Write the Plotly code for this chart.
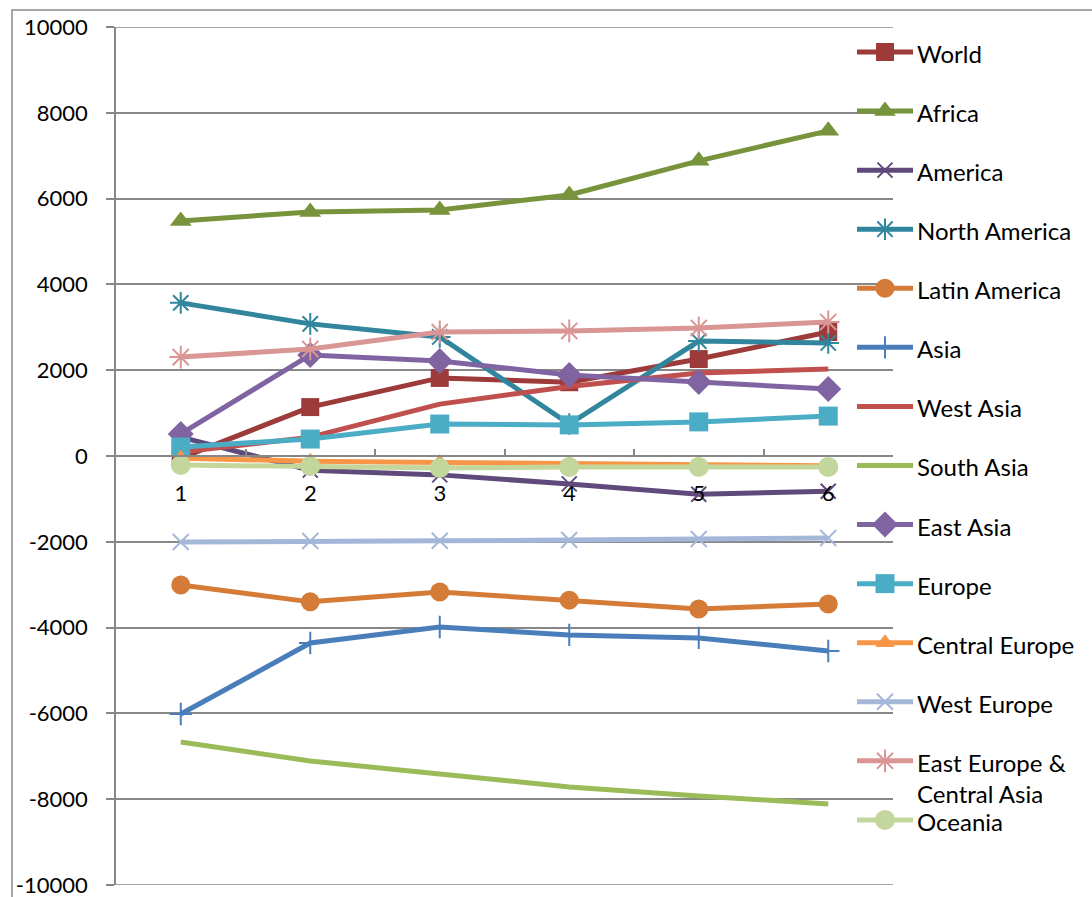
import plotly.graph_objects as go

W, H = 1092, 897

categories = ["1", "2", "3", "4", "5", "6"]
y_tick_values = [-10000, -8000, -6000, -4000, -2000, 0, 2000, 4000, 6000, 8000, 10000]
y_tick_labels = ["-10000", "-8000", "-6000", "-4000", "-2000", "0", "2000", "4000", "6000", "8000", "10000"]
y_min, y_max = -10000, 10000

series_names = ["World", "Africa", "America", "North America", "Latin America", "Asia",
                "West Asia", "South Asia", "East Asia", "Europe", "Central Europe",
                "West Europe", "East Europe &<br>Central Asia", "Oceania"]

world = [-50, 1140, 1820, 1720, 2260, 2890]
africa = [5480, 5690, 5735, 6085, 6880, 7580]
america = [440, -330, -440, -650, -890, -820]
north_america = [3570, 3080, 2775, 745, 2680, 2635]
latin_america = [-3005, -3400, -3170, -3360, -3565, -3450]
asia = [-6015, -4360, -3985, -4170, -4240, -4545]
west_asia = [90, 440, 1210, 1620, 1935, 2030]
south_asia = [-6665, -7110, -7410, -7715, -7925, -8110]
east_asia = [515, 2355, 2215, 1890, 1725, 1560]
europe = [210, 395, 745, 725, 795, 930]
central_europe = [-50, -120, -150, -180, -200, -230]
west_europe = [-2005, -1980, -1975, -1960, -1935, -1910]
east_europe_central_asia = [2305, 2495, 2890, 2915, 2985, 3125]
oceania = [-210, -235, -280, -255, -255, -255]

values = [world, africa, america, north_america, latin_america, asia, west_asia,
          south_asia, east_asia, europe, central_europe, west_europe,
          east_europe_central_asia, oceania]

colors = ["#9C3B39", "#77933C", "#604A7B", "#31859C", "#D47B37", "#4A7EBB", "#C0504D",
          "#9BBB59", "#8064A2", "#4BACC6", "#F79646", "#A4B7D9", "#D99694", "#C3D69B"]

# symbol, size, line width of the marker (for thin symbols)
markers = [("square", 18, 0), ("triangle-up", 19, 0), ("x-thin", 15, 2),
           ("asterisk", 18, 2), ("circle", 19, 0), ("cross-thin", 16, 2),
           (None, 0, 0), (None, 0, 0), ("diamond", 20, 0), ("square", 19, 0),
           ("triangle-up", 17, 0), ("x-thin", 16, 2), ("asterisk", 19, 2),
           ("circle", 20, 0)]

FONT = "Lato, 'Noto Sans', sans-serif"
GRID = "#878787"
LINE_W = 5

fig = go.Figure()


def marker_dict(sym, size, lw, color):
    if sym is None:
        return None
    if lw:
        return dict(symbol=sym, size=size, color=color, line=dict(color=color, width=lw))
    return dict(symbol=sym, size=size, color=color, line=dict(width=0))


for name, vals, col, (sym, size, lw) in zip(series_names, values, colors, markers):
    fig.add_trace(go.Scatter(
        x=categories, y=vals, name=name,
        mode="lines+markers" if sym else "lines",
        line=dict(color=col, width=LINE_W),
        marker=marker_dict(sym, size, lw, col),
        showlegend=False, xaxis="x", yaxis="y",
    ))

# Manual legend (pixel layout on an overlay axis)
leg_x0, leg_x1, leg_top, leg_step = 857, 913, 52, 59.07
for i, (name, col, (sym, size, lw)) in enumerate(zip(series_names, colors, markers)):
    yy = leg_top + leg_step * i
    fig.add_trace(go.Scatter(
        x=[leg_x0, (leg_x0 + leg_x1) / 2, leg_x1], y=[yy, yy, yy],
        mode="lines", line=dict(color=col, width=LINE_W),
        showlegend=False, xaxis="x2", yaxis="y2", hoverinfo="skip"))
    if sym:
        fig.add_trace(go.Scatter(
            x=[(leg_x0 + leg_x1) / 2], y=[yy], mode="markers",
            marker=marker_dict(sym, size, lw, col),
            showlegend=False, xaxis="x2", yaxis="y2", hoverinfo="skip"))
    fig.add_annotation(
        x=915, y=yy - 15, xref="x2", yref="y2", text=name, showarrow=False,
        xanchor="left", yanchor="top", align="left",
        font=dict(family=FONT, size=24, color="#000000"))

x_dom = [116 / W, 893 / W]
y_dom = [(H - 885) / H, (H - 27) / H]
zero_pos = (H - 456) / H

# edge gridlines (top / bottom of the value range)
edge_lines = [dict(type="line", xref="paper", yref="y", x0=x_dom[0], x1=x_dom[1],
                   y0=v, y1=v, line=dict(color=GRID, width=1.5), layer="below")
              for v in (y_min, y_max)]

fig.update_layout(
    width=W, height=H,
    margin=dict(l=0, r=0, t=0, b=0, autoexpand=False),
    paper_bgcolor="white", plot_bgcolor="rgba(0,0,0,0)",
    showlegend=False,
    font=dict(family=FONT, size=20, color="#000000"),
    xaxis=dict(
        type="category", categoryorder="array", categoryarray=categories,
        range=[-0.5, 5.5], domain=x_dom, anchor="free", position=zero_pos,
        showline=True, linecolor=GRID, linewidth=1.5,
        ticks="inside", ticklen=6, tickcolor=GRID, tickwidth=1.5,
        tickson="boundaries", showgrid=False, zeroline=False,
        tickfont=dict(family=FONT, size=22, color="#000000"),
        ticklabelstandoff=18, automargin=False,
    ),
    yaxis=dict(
        range=[y_min, y_max], domain=y_dom, anchor="x",
        tickmode="array", tickvals=y_tick_values, ticktext=y_tick_labels,
        showline=True, linecolor=GRID, linewidth=1.5,
        ticks="outside", ticklen=8, tickcolor=GRID, tickwidth=1.5,
        showgrid=True, gridcolor=GRID, gridwidth=1.5, zeroline=False,
        tickfont=dict(family=FONT, size=22, color="#000000"),
        ticklabelstandoff=14, automargin=False, ticklabeloverflow="allow",
    ),
    xaxis2=dict(domain=[0, 1], range=[0, W], anchor="y2", visible=False,
                fixedrange=True, automargin=False),
    yaxis2=dict(domain=[0, 1], range=[H, 0], anchor="x2", visible=False,
                fixedrange=True, automargin=False),
    shapes=[dict(type="rect", xref="paper", yref="paper",
                 x0=12 / W, x1=1.02, y0=-0.02, y1=1 - 10 / H,
                 line=dict(color="#8A8A8A", width=1.5), layer="below")] + edge_lines,
)

fig.write_html("out.html")
